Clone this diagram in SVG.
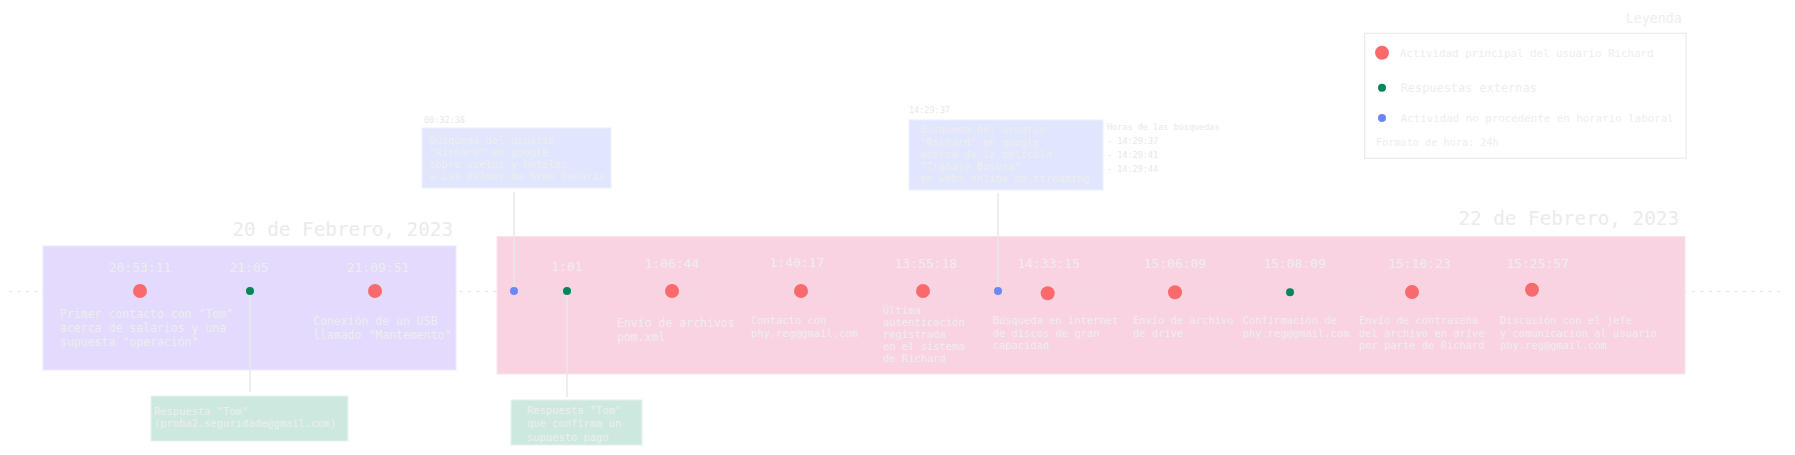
<svg xmlns="http://www.w3.org/2000/svg" width="1795" height="455" viewBox="0 0 1795 455">
<style>
text{font-family:"DejaVu Sans Mono","Liberation Mono",monospace;fill:#eeeeee}
.date{font-size:19.3px;text-anchor:end;fill:#ebebeb}
.time{font-size:13px;text-anchor:middle}
.d11{font-size:11.5px}
.d10{font-size:10.45px}
.small{font-size:8.5px;fill:#e8e8e8}
.red{fill:#f86a6b}
.green{fill:#00875a}
.blue{fill:#6b86f8}
.vline{stroke:#e8e8e8;stroke-width:1.5;fill:none}
.bluebox{fill:#e0e6fd;stroke:#eef0fd;stroke-width:1}
.greenbox{fill:#cde9df;stroke:#e6f2ee;stroke-width:1}
</style>
<rect width="1795" height="455" fill="#ffffff"/>
<g id="periods">
<rect x="43" y="246" width="413" height="124" fill="#e3dafd" stroke="#eee8fd" stroke-width="1"/>
<rect x="497" y="236.5" width="1188" height="137.5" fill="#fad3e3" stroke="#fbe3ec" stroke-width="1"/>
<text class="date" x="453" y="236">20 de Febrero, 2023</text>
<text class="date" x="1679" y="225">22 de Febrero, 2023</text>
</g>
<g id="connectors">
<line x1="9" y1="291.5" x2="1782" y2="291.5" stroke="#e4e4e4" stroke-width="1.2" stroke-dasharray="3 5.5"/>
<line class="vline" x1="250" y1="291" x2="250" y2="392"/>
<line class="vline" x1="567" y1="291" x2="567" y2="397"/>
<line class="vline" x1="514" y1="192" x2="514" y2="291"/>
<line class="vline" x1="998" y1="193" x2="998" y2="291"/>
</g>
<g id="n1">
<text class="time" x="140" y="272">20:53:11</text>
<circle class="red" cx="140" cy="291" r="7"/>
<text class="d11" x="60" y="318">Primer contacto con "Tom"<tspan x="60" dy="14">acerca de salarios y una</tspan><tspan x="60" dy="14">supuesta "operación"</tspan></text>
</g>
<g id="n2">
<text class="time" x="249" y="272">21:05</text>
<circle class="green" cx="250" cy="291" r="4"/>
<rect class="greenbox" x="151" y="396" width="197" height="45"/>
<text class="d10" x="154" y="415">Respuesta "Tom"<tspan x="154" dy="12">(proba2.seguridade@gmail.com)</tspan></text>
</g>
<g id="n3">
<text class="time" x="378" y="272">21:09:51</text>
<circle class="red" cx="375" cy="291" r="7"/>
<text class="d11" x="313" y="325">Conexión de un USB<tspan x="313" dy="14">llamado "Mantemento"</tspan></text>
</g>
<g id="n4">
<text class="small" x="424" y="123">00:32:38</text>
<rect class="bluebox" x="422" y="128" width="189" height="60"/>
<text class="d10" x="429" y="143.7">Búsqueda del usuario<tspan x="429" dy="12">"Richard" en google</tspan><tspan x="429" dy="12">sobre vuelos y hoteles</tspan><tspan x="429" dy="12">a Las Palmas de Gran Canaria</tspan></text>
<circle class="blue" cx="514" cy="291" r="4"/>
</g>
<g id="n5">
<text class="time" x="567" y="271">1:01</text>
<circle class="green" cx="567" cy="291" r="4"/>
<rect class="greenbox" x="511" y="400" width="131" height="45"/>
<text class="d10" x="527" y="414">Respuesta "Tom"<tspan x="527" dy="13.3">que confirma un</tspan><tspan x="527" dy="13.3">supuesto pago</tspan></text>
</g>
<g id="n6">
<text class="time" x="672" y="268">1:06:44</text>
<circle class="red" cx="672" cy="291" r="7"/>
<text class="d11" x="617" y="327">Envío de archivos<tspan x="617" dy="14">pom.xml</tspan></text>
</g>
<g id="n7">
<text class="time" x="797" y="267">1:40:17</text>
<circle class="red" cx="801" cy="291" r="7"/>
<text class="d10" x="751" y="324">Contacto con<tspan x="751" dy="12.6">phy.reg@gmail.com</tspan></text>
</g>
<g id="n8">
<text class="time" x="926" y="268">13:55:18</text>
<circle class="red" cx="923" cy="291" r="7"/>
<text class="d10" x="883" y="313.7">Última<tspan x="883" dy="12">autenticación</tspan><tspan x="883" dy="12">registrada</tspan><tspan x="883" dy="12">en el sistema</tspan><tspan x="883" dy="12">de Richard</tspan></text>
</g>
<g id="n9">
<text class="small" x="909" y="113.3">14:29:37</text>
<rect class="bluebox" x="909" y="120" width="194" height="70"/>
<text class="d10" x="920" y="133.3">Búsqueda del usuario<tspan x="920" dy="12.2">"Richard" en google</tspan><tspan x="920" dy="12.2">acerca de la película</tspan><tspan x="920" dy="12.2">"Trabajo Basura"</tspan><tspan x="920" dy="12.2">en webs online de streaming</tspan></text>
<text class="small" x="1107" y="130">Horas de las búsquedas<tspan x="1107" dy="14.2">- 14:29:37</tspan><tspan x="1107" dy="14">- 14:29:41</tspan><tspan x="1107" dy="14">- 14:29:44</tspan></text>
<circle class="blue" cx="998" cy="291" r="4"/>
</g>
<g id="n10">
<text class="time" x="1048.7" y="268">14:33:15</text>
<circle class="red" cx="1047.7" cy="293.3" r="7"/>
<text class="d10" x="992.7" y="324.3">Búsqueda en internet<tspan x="992.7" dy="12.2">de discos de gran</tspan><tspan x="992.7" dy="12.2">capacidad</tspan></text>
</g>
<g id="n11">
<text class="time" x="1175" y="268">15:06:09</text>
<circle class="red" cx="1175" cy="292.3" r="7"/>
<text class="d10" x="1133" y="324.3">Envío de archivo<tspan x="1133" dy="12.2">de drive</tspan></text>
</g>
<g id="n12">
<text class="time" x="1294.7" y="268">15:08:09</text>
<circle class="green" cx="1290" cy="292.3" r="4"/>
<text class="d10" x="1242.7" y="324.3">Confirmación de<tspan x="1242.7" dy="12.2">phy.reg@gmail.com</tspan></text>
</g>
<g id="n13">
<text class="time" x="1419.5" y="268">15:10:23</text>
<circle class="red" cx="1412" cy="292" r="7"/>
<text class="d10" x="1359" y="324.3">Envío de contraseña<tspan x="1359" dy="12.2">del archivo en drive</tspan><tspan x="1359" dy="12.2">por parte de Richard</tspan></text>
</g>
<g id="n14">
<text class="time" x="1537.7" y="268">15:25:57</text>
<circle class="red" cx="1532" cy="289.7" r="7"/>
<text class="d10" x="1500" y="324.3">Discusión con el jefe<tspan x="1500" dy="12.2">y comunicación al usuario</tspan><tspan x="1500" dy="12.2">phy.reg@gmail.com</tspan></text>
</g>
<g id="legend">
<text x="1681.7" y="23.3" style="font-size:13.3px;text-anchor:end">Leyenda</text>
<rect x="1364.7" y="33.3" width="321.3" height="125" fill="#ffffff" stroke="#ebebeb" stroke-width="1.2"/>
<circle class="red" cx="1382" cy="52.7" r="7"/>
<text x="1400" y="56.7" style="font-size:10.8px">Actividad principal del usuario Richard</text>
<circle class="green" cx="1382" cy="87.7" r="4"/>
<text x="1400.7" y="91.7" style="font-size:11.9px">Respuestas externas</text>
<circle class="blue" cx="1382" cy="118" r="4"/>
<text x="1400.7" y="121.7" style="font-size:10.8px">Actividad no procedente en horario laboral</text>
<text x="1376" y="146" style="font-size:10.2px">Formato de hora: 24h</text>
</g>
</svg>
